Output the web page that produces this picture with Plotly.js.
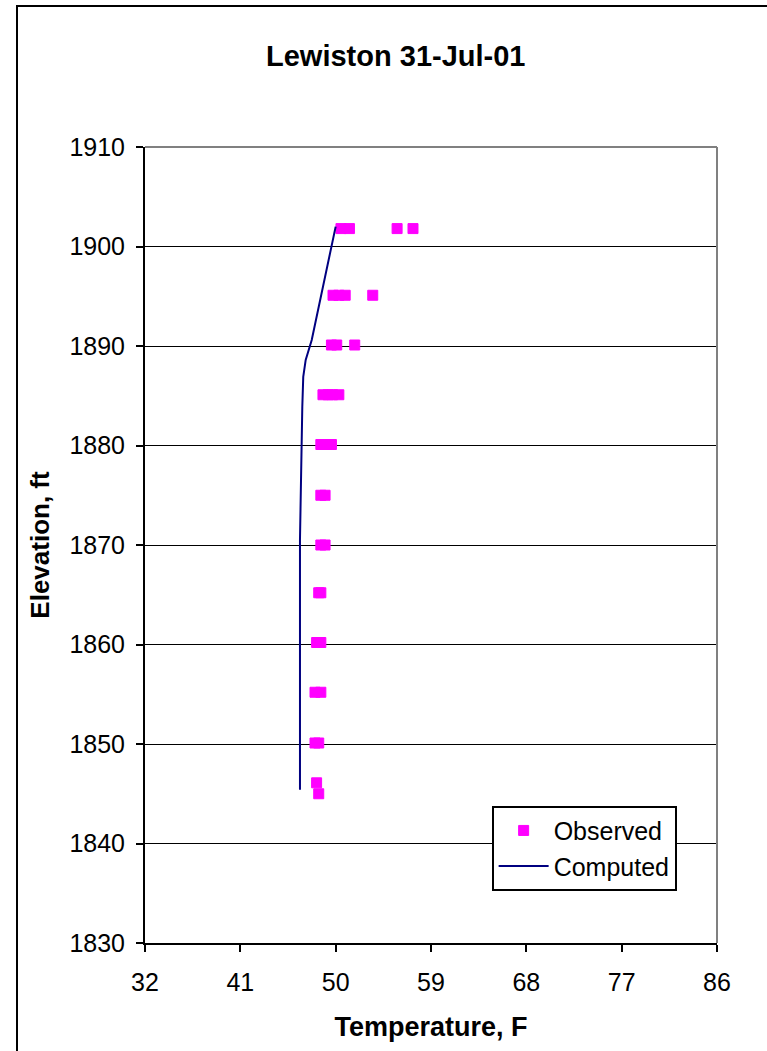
<!DOCTYPE html>
<html>
<head>
<meta charset="utf-8">
<script src="https://cdn.plot.ly/plotly-3.0.1.min.js"></script>
<style>
  html, body { margin: 0; padding: 0; background: #fff; overflow: hidden; }
  #wrap { position: relative; width: 767px; height: 1051px; }
  #chart { position: absolute; left: 0; top: 0; width: 767px; height: 1051px; }
  #frame { position: absolute; left: 16px; top: 5px; width: 900px; height: 1200px;
           border: 2px solid #000; pointer-events: none; box-sizing: border-box; }
</style>
</head>
<body>
<div id="wrap">
  <div id="chart"></div>
  <div id="frame"></div>
</div>
<script>
// Observed temperatures (F) and elevations (ft)
const observedTemp = [
  50.5, 51.3, 55.8, 57.3,
  49.75, 50.3, 50.9, 53.5,
  49.6, 50.1, 51.8,
  48.8, 49.3, 49.7, 50.3,
  48.6, 49.1, 49.6,
  48.6, 49.0,
  48.6, 49.0,
  48.4, 48.6,
  48.2, 48.6,
  48.05, 48.6,
  48.05, 48.4,
  48.2,
  48.4
];
const observedElev = [
  1901.8, 1901.8, 1901.8, 1901.8,
  1895.1, 1895.1, 1895.1, 1895.1,
  1890.1, 1890.1, 1890.1,
  1885.1, 1885.1, 1885.1, 1885.1,
  1880.1, 1880.1, 1880.1,
  1875.0, 1875.0,
  1870.0, 1870.0,
  1865.2, 1865.2,
  1860.2, 1860.2,
  1855.2, 1855.2,
  1850.1, 1850.1,
  1846.1,
  1845.0
];
// Computed profile
const computedTemp = [50.0, 47.74, 47.17, 46.94, 46.85, 46.79, 46.70, 46.63, 46.63];
const computedElev = [1902.0, 1890.6, 1888.6, 1886.9, 1883.9, 1879.9, 1874.5, 1870.5, 1845.4];

const chartTitle = 'Lewiston 31-Jul-01';
const xTitle = 'Temperature, F';
const yTitle = 'Elevation, ft';
const xRange = [32, 86];
const yRange = [1830, 1910];

const FONT = 'Liberation Sans, Arial, Helvetica, sans-serif';

const traces = [
  {
    x: observedTemp, y: observedElev, name: 'Observed',
    type: 'scatter', mode: 'markers',
    marker: { symbol: 'square', size: 10, color: '#FF00FF', line: { color: '#FF00FF', width: 1 } }
  },
  {
    x: computedTemp, y: computedElev, name: 'Computed',
    type: 'scatter', mode: 'lines',
    line: { color: '#000080', width: 2 }
  }
];

const layout = {
  width: 767, height: 1051,
  paper_bgcolor: '#ffffff', plot_bgcolor: '#ffffff',
  margin: { l: 145, r: 50, t: 147, b: 108, pad: 0 },
  font: { family: FONT, color: '#000', size: 25 },
  title: {
    text: '<b>' + chartTitle + '</b>',
    font: { family: FONT, size: 29, color: '#000' },
    x: 0.516, xref: 'container', xanchor: 'center',
    y: 1 - 56 / 1051, yref: 'container', yanchor: 'middle'
  },
  showlegend: true,
  legend: {
    x: 0.606, y: 0.1725, xanchor: 'left', yanchor: 'top',
    bgcolor: '#ffffff', bordercolor: '#000', borderwidth: 2,
    font: { family: FONT, size: 25, color: '#000' },
    itemwidth: 50, tracegroupgap: 0
  },
  xaxis: {
    range: xRange, tick0: 32, dtick: 9, tickmode: 'linear',
    showgrid: false, zeroline: false,
    showline: true, linecolor: '#000', linewidth: 2,
    ticks: 'outside', ticklen: 7, tickwidth: 2, tickcolor: '#000',
    ticklabelstandoff: 9,
    tickfont: { family: FONT, size: 25, color: '#000' },
    title: { text: '<b>' + xTitle + '</b>', font: { family: FONT, size: 27, color: '#000' }, standoff: 22 },
    automargin: false, fixedrange: true
  },
  yaxis: {
    range: yRange, tick0: 1830, dtick: 10, tickmode: 'linear',
    showgrid: true, gridcolor: '#000', gridwidth: 1, zeroline: false,
    showline: true, linecolor: '#000', linewidth: 2,
    ticks: 'outside', ticklen: 7, tickwidth: 2, tickcolor: '#000',
    ticklabelstandoff: 6,
    tickfont: { family: FONT, size: 25, color: '#000' },
    title: { text: '<b>' + yTitle + '</b>', font: { family: FONT, size: 26, color: '#000' }, standoff: 12 },
    automargin: false, fixedrange: true
  },
  shapes: [
    { type: 'line', xref: 'paper', yref: 'paper', x0: 0, x1: 1, y0: 1, y1: 1,
      line: { color: '#808080', width: 2 }, layer: 'above' },
    { type: 'line', xref: 'paper', yref: 'paper', x0: 1, x1: 1, y0: 0, y1: 1,
      line: { color: '#808080', width: 2 }, layer: 'above' }
  ]
};

Plotly.newPlot('chart', traces, layout, { displayModeBar: false, staticPlot: true });
</script>
</body>
</html>
